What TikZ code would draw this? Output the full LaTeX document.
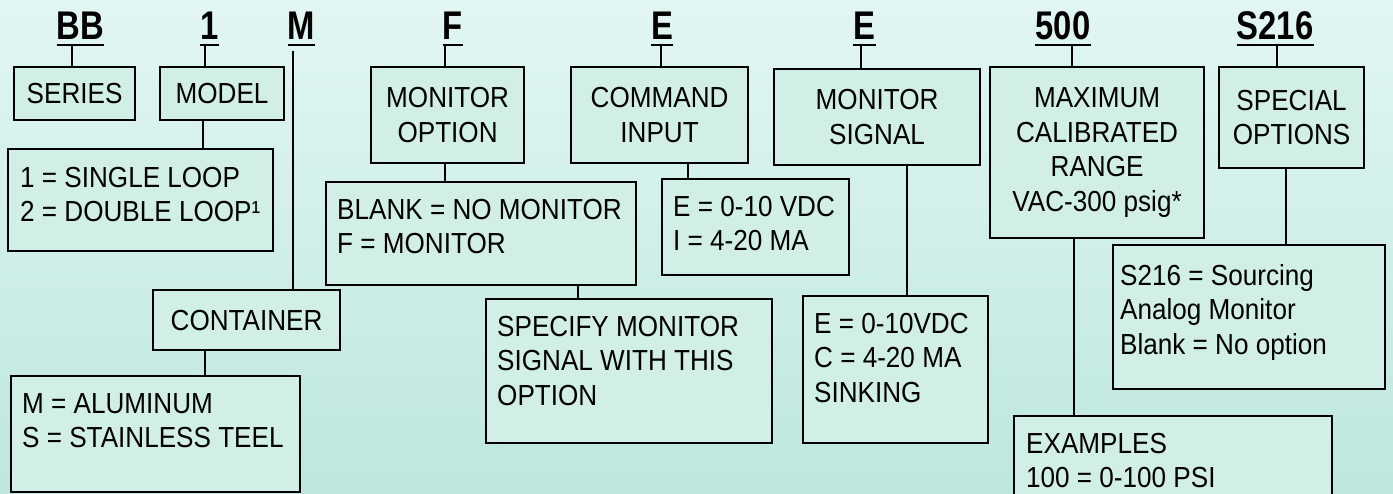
\documentclass[tikz,border=0pt]{standalone}
\usepackage{fontspec}
\newfontfamily\bodyfont{Liberation Sans}[FakeStretch=0.9]
\newfontfamily\hdrfont{Liberation Sans}[FakeStretch=0.82]
\definecolor{bgtop}{HTML}{E2F6F3}
\definecolor{bgbot}{HTML}{BDE7DD}
\definecolor{boxfill}{HTML}{D1EFE7}
\begin{document}
\begin{tikzpicture}[x=1pt,y=-1pt,
  box/.style={draw=black, line width=2.2pt, fill=boxfill, anchor=north west, inner sep=0pt, align=center,
    font=\bodyfont\fontsize{29}{34.5}\selectfont},
  txt/.style={anchor=north west, inner sep=0pt, align=left, font=\bodyfont\fontsize{29}{34.5}\selectfont},
  hdr/.style={anchor=base, inner sep=0pt, text depth=6pt, font=\hdrfont\bfseries\fontsize{40}{44}\selectfont},
  conn/.style={line width=2.2pt},
  uline/.style={line width=2.2pt}]
\useasboundingbox (0,0) rectangle (1393,493);
\clip (0,0) rectangle (1393,493);
\shade[top color=bgtop, bottom color=bgbot] (0,0) rectangle (1393,493);

% headers
\node[hdr] (hbb) at (80.5,39) {BB};
\node[hdr] (h1) at (209.5,39) {1};
\node[hdr] (hm) at (301.5,39) {M};
\node[hdr] (hf) at (453,39) {F};
\node[hdr] (he1) at (662,39) {E};
\node[hdr] (he2) at (864.5,39) {E};
\node[hdr] (h500) at (1063,39) {500};
\node[hdr] (hs216) at (1275,39) {S216};
\foreach \h in {hbb,h1,hm,hf,he1,he2,h500,hs216}
  \draw[uline] (\h.south west) -- (\h.south east);

% boxes
\node[box, minimum width=121pt, minimum height=53pt] (series) at (13,66) {SERIES};
\node[box, minimum width=124pt, minimum height=53pt] (model) at (159,66) {MODEL};
\node[box, minimum width=265pt, minimum height=102pt] (loop) at (7,148) {};
\node[box, minimum width=187pt, minimum height=60pt] (container) at (152,289) {CONTAINER};
\node[box, minimum width=289pt, minimum height=116pt] (alum) at (10,375) {};
\node[box, minimum width=153pt, minimum height=96pt] (monopt) at (370,66) {MONITOR\\OPTION};
\node[box, minimum width=310pt, minimum height=103pt] (blank) at (325,181) {};
\node[box, minimum width=286pt, minimum height=144pt] (specify) at (485,298) {};
\node[box, minimum width=177pt, minimum height=96pt] (cmd) at (570,66) {COMMAND\\INPUT};
\node[box, minimum width=187pt, minimum height=96pt] (evdc) at (661,178) {};
\node[box, minimum width=206pt, minimum height=96pt] (monsig) at (773,68) {MONITOR\\SIGNAL};
\node[box, minimum width=185pt, minimum height=147pt] (esig) at (802,295) {};
\node[box, minimum width=214pt, minimum height=171pt] (maxcal) at (989,66) {MAXIMUM\\CALIBRATED\\RANGE\\VAC-300 psig*};
\node[box, minimum width=318pt, minimum height=110pt] (examples) at (1013,415) {};
\node[box, minimum width=145pt, minimum height=101pt] (special) at (1218,66) {SPECIAL\\OPTIONS};
\node[box, minimum width=272pt, minimum height=144pt] (s216) at (1112,244) {};

% box texts
\node[txt] (tloop) at (20,167) {1 = SINGLE LOOP\\2 = DOUBLE LOOP¹};
\node[txt] (talum) at (22,393) {M = ALUMINUM\\S = STAINLESS TEEL};
\node[txt] (tblank) at (337,199) {BLANK = NO MONITOR\\F = MONITOR};
\node[txt] (tspecify) at (497,316) {SPECIFY MONITOR\\SIGNAL WITH THIS\\OPTION};
\node[txt] (tevdc) at (673,196) {E = 0-10 VDC\\I = 4-20 MA};
\node[txt] (tesig) at (814,313) {E = 0-10VDC\\C = 4-20 MA\\SINKING};
\node[txt] (ts216) at (1120,264) {S216 = Sourcing\\Analog Monitor\\Blank = No option};
\node[txt] (texamples) at (1026,433) {EXAMPLES\\100 = 0-100 PSI};

% connector anchor points on box tops
\coordinate (jseries) at (72,66);
\coordinate (jmodel) at (205,66);
\coordinate (jloop) at (203,148);
\coordinate (jcont) at (293,289);
\coordinate (jalum) at (205,375);
\coordinate (jmonopt) at (445,66);
\coordinate (jblank) at (445,181);
\coordinate (jspec) at (578,298);
\coordinate (jcmd) at (661,66);
\coordinate (jevdc) at (688,178);
\coordinate (jmonsig) at (861,68);
\coordinate (jesig) at (907,295);
\coordinate (jmax) at (1072,66);
\coordinate (jex) at (1074,415);
\coordinate (jspecial) at (1277,66);
\coordinate (js216) at (1286,244);

\draw[conn] (jseries |- hbb.south) -- (jseries);
\draw[conn] (jmodel |- h1.south) -- (jmodel);
\draw[conn] (jloop |- model.south) -- (jloop);
\draw[conn] ([yshift=-6pt]jcont |- hm.south) -- (jcont);
\draw[conn] (jalum |- container.south) -- (jalum);
\draw[conn] (jmonopt |- hf.south) -- (jmonopt);
\draw[conn] (jblank |- monopt.south) -- (jblank);
\draw[conn] (jspec |- blank.south) -- (jspec);
\draw[conn] (jcmd |- he1.south) -- (jcmd);
\draw[conn] (jevdc |- cmd.south) -- (jevdc);
\draw[conn] (jmonsig |- he2.south) -- (jmonsig);
\draw[conn] (jesig |- monsig.south) -- (jesig);
\draw[conn] (jmax |- h500.south) -- (jmax);
\draw[conn] (jex |- maxcal.south) -- (jex);
\draw[conn] (jspecial |- hs216.south) -- (jspecial);
\draw[conn] (js216 |- special.south) -- (js216);
\end{tikzpicture}
\end{document}
